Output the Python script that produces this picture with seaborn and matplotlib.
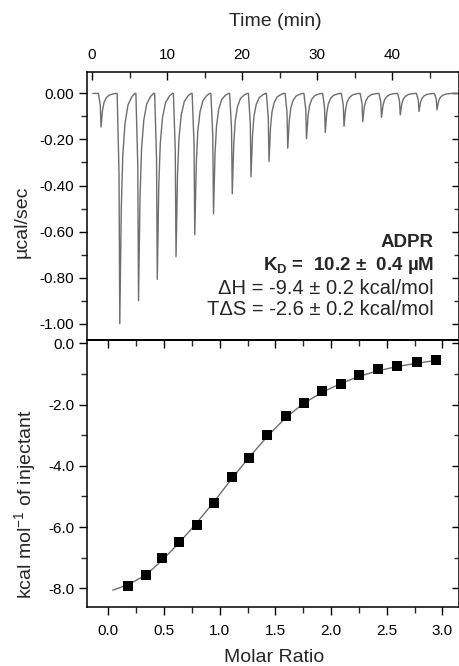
import numpy as np
import pandas as pd
import matplotlib
matplotlib.use("Agg")
import matplotlib.pyplot as plt
from matplotlib.ticker import MultipleLocator, FormatStrFormatter
import seaborn as sns

# raw thermogram: injection times (min) and peak heights (ucal/sec)
inj_time = [1.2, 3.7, 6.2, 8.7, 11.2, 13.7, 16.2, 18.7, 21.2, 23.6,
            26.1, 28.6, 31.1, 33.6, 36.1, 38.6, 41.1, 43.6, 46.0]
inj_peak = [-0.146, -1.00, -0.90, -0.807, -0.709, -0.614, -0.523, -0.436, -0.362, -0.296,
            -0.238, -0.197, -0.170, -0.143, -0.122, -0.104, -0.093, -0.078, -0.071]
# shape of one injection spike (offset in min, fraction of peak)
spike_offset = [-0.35, -0.1, 0.0, 0.08, 0.2, 0.4, 0.7, 1.1, 1.6, 2.0]
spike_frac = [0.0, 0.35, 1.0, 0.8, 0.5, 0.27, 0.13, 0.05, 0.015, 0.0]
trace_start = 0.1
trace_end = 49.5

# integrated heats
molar_ratio = [0.18, 0.336, 0.485, 0.637, 0.793, 0.952, 1.107, 1.266, 1.427, 1.592,
               1.754, 1.921, 2.086, 2.253, 2.424, 2.594, 2.768, 2.94]
heat = [-7.92, -7.57, -7.02, -6.50, -5.93, -5.21, -4.36, -3.76, -3.00, -2.38,
        -1.95, -1.57, -1.32, -1.04, -0.83, -0.73, -0.62, -0.54]
# fitted curve
fit_x = [0.04, 0.18, 0.34, 0.49, 0.64, 0.79, 0.95, 1.11, 1.27, 1.43,
         1.59, 1.75, 1.92, 2.09, 2.25, 2.42, 2.59, 2.77, 2.94]
fit_y = [-8.06, -7.88, -7.56, -7.06, -6.50, -5.88, -5.17, -4.41, -3.70, -3.03,
         -2.44, -1.97, -1.60, -1.31, -1.08, -0.90, -0.76, -0.65, -0.56]

sns.set_style("ticks")
plt.rcParams["font.family"] = ["Liberation Sans", "DejaVu Sans"]
plt.rcParams["mathtext.fontset"] = "custom"
plt.rcParams["mathtext.rm"] = "Liberation Sans"
plt.rcParams["mathtext.bf"] = "Liberation Sans:bold"

# build thermogram table
t_vals = [trace_start]
p_vals = [0.0]
for t0, pk in zip(inj_time, inj_peak):
    for off, fr in zip(spike_offset, spike_frac):
        t_vals.append(t0 + off)
        p_vals.append(pk * fr)
t_vals.append(trace_end)
p_vals.append(0.0)
df_raw = pd.DataFrame({"time": t_vals, "power": p_vals})
df_pts = pd.DataFrame({"ratio": molar_ratio, "heat": heat})
df_fit = pd.DataFrame({"ratio": fit_x, "heat": fit_y})

fig = plt.figure(figsize=(4.6, 6.66), dpi=100)
W, H = 460, 666
left, right = 87 / W, 459.5 / W
y_top, y_mid, y_bot = 72, 340, 607
ax1 = fig.add_axes([left, 1 - y_mid / H, right - left, (y_mid - y_top) / H])
ax2 = fig.add_axes([left, 1 - y_bot / H, right - left, (y_bot - y_mid) / H])

# --- top panel
sns.lineplot(data=df_raw, x="time", y="power", estimator=None, sort=False,
             color="#6e6e6e", linewidth=1.0, ax=ax1)
ax1.set_xlim(-0.67, 49.0)
ax1.set_ylim(-1.071, 0.093)
ax1.xaxis.set_major_locator(MultipleLocator(10))
ax1.xaxis.set_minor_locator(MultipleLocator(5))
ax1.yaxis.set_major_locator(MultipleLocator(0.2))
ax1.yaxis.set_minor_locator(MultipleLocator(0.1))
ax1.yaxis.set_major_formatter(FormatStrFormatter("%.2f"))
ax1.xaxis.tick_top()
ax1.set_xlabel("")
ax1.set_ylabel("")
ax1r = ax1.secondary_yaxis("right")
ax1r.yaxis.set_major_locator(MultipleLocator(0.2))
ax1r.yaxis.set_minor_locator(MultipleLocator(0.1))

ax1.text(0.9315, 0.346, "ADPR", transform=ax1.transAxes, ha="right", va="baseline",
         fontsize=13.5, fontweight="bold")
ax1.text(0.9315, 0.263, r"K$_\mathbf{D}$ =  10.2 ±  0.4 µM", transform=ax1.transAxes,
         ha="right", va="baseline", fontsize=13.5, fontweight="bold")
ax1.text(0.9315, 0.172, "ΔH = -9.4 ± 0.2 kcal/mol", transform=ax1.transAxes,
         ha="right", va="baseline", fontsize=14.5)
ax1.text(0.9315, 0.093, "TΔS = -2.6 ± 0.2 kcal/mol", transform=ax1.transAxes,
         ha="right", va="baseline", fontsize=14.5)

# --- bottom panel
sns.lineplot(data=df_fit, x="ratio", y="heat", estimator=None, sort=False,
             color="#6e6e6e", linewidth=1.0, ax=ax2)
sns.scatterplot(data=df_pts, x="ratio", y="heat", marker="s", s=62, color="black",
                edgecolor="black", linewidth=0, zorder=3, ax=ax2)
ax2.set_xlim(-0.191, 3.153)
ax2.set_ylim(-8.61, 0.108)
ax2.xaxis.set_major_locator(MultipleLocator(0.5))
ax2.xaxis.set_minor_locator(MultipleLocator(0.25))
ax2.xaxis.set_major_formatter(FormatStrFormatter("%.1f"))
ax2.yaxis.set_major_locator(MultipleLocator(2.0))
ax2.yaxis.set_minor_locator(MultipleLocator(1.0))
ax2.yaxis.set_major_formatter(FormatStrFormatter("%.1f"))
ax2.set_xlabel("")
ax2.set_ylabel("")
ax2t = ax2.secondary_xaxis("top")
ax2t.xaxis.set_major_locator(MultipleLocator(0.5))
ax2t.xaxis.set_minor_locator(MultipleLocator(0.25))
ax2r = ax2.secondary_yaxis("right")
ax2r.yaxis.set_major_locator(MultipleLocator(2.0))
ax2r.yaxis.set_minor_locator(MultipleLocator(1.0))

for ax in (ax1, ax2, ax1r, ax2t, ax2r):
    for sp in ax.spines.values():
        sp.set_visible(True)
        sp.set_linewidth(1.1)
        sp.set_color("black")
    ax.tick_params(which="major", length=6, width=1.0, labelsize=11, colors="black")
    ax.tick_params(which="minor", length=4, width=1.0)

ax1.tick_params(axis="x", which="both", direction="in", top=True, bottom=False,
                labeltop=True, labelbottom=False, pad=7)
ax1.tick_params(axis="y", which="both", direction="out", left=True, right=False, pad=3)
ax1r.tick_params(which="both", direction="in", labelright=False)
ax2.tick_params(axis="x", which="both", direction="out", bottom=True, top=False, pad=6)
ax2.tick_params(axis="y", which="both", direction="out", left=True, right=False, pad=3)
ax2t.tick_params(which="both", direction="in", labeltop=False)
ax2r.tick_params(which="both", direction="in", labelright=False)

fig.text(275 / W, 1 - 22 / H, "Time (min)", ha="center", va="center", fontsize=14)
fig.text(274 / W, 1 - 658 / H, "Molar Ratio", ha="center", va="center", fontsize=14)
fig.text(22 / W, 1 - 222 / H, "µcal/sec", ha="center", va="center", rotation=90, fontsize=14)
fig.text(26 / W, 1 - 504 / H, r"kcal mol$^{-1}$ of injectant", ha="center", va="center",
         rotation=90, fontsize=14)

fig.savefig("out.png", dpi=100)
